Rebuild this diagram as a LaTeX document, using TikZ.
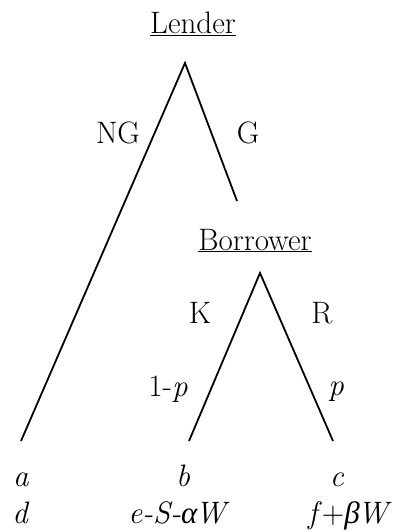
\documentclass[tikz,border=0pt]{standalone}
\usepackage{fontspec}
\newfontfamily\grk{Liberation Serif}
\begin{document}
\begin{tikzpicture}[x=1pt,y=-1pt,
  branch/.style={line width=1.8pt},
  lbl/.style={anchor=base,inner sep=0pt,font=\fontsize{31}{36}\selectfont}]
\useasboundingbox (0,0) rectangle (393,532);
% decision nodes
\node[lbl] (lender) at (193,34) {\underline{Lender}};
\node[lbl] (borrower) at (255,250) {\underline{Borrower}};
\coordinate (L0) at (185,63);
\coordinate (Lng) at (21,441);
\coordinate (Lg) at (237,201);
\coordinate (B0) at (260,273);
\coordinate (Bk) at (189,441);
\coordinate (Br) at (333,441);
% branches
\draw[branch] (Lng) -- (L0) -- (Lg);
\draw[branch] (Bk) -- (B0) -- (Br);
% branch labels
\node[lbl] (ng) at (118,143) {NG};
\node[lbl] (g) at (248,143) {G};
\node[lbl] (k) at (200,323) {K};
\node[lbl] (r) at (322,323) {R};
\node[lbl] (q) at (168,396) {1-\textit{p}};
\node[lbl] (p) at (336,395) {\textit{p}};
% payoffs
\node[lbl] (a) at (21,486) {\textit{a}};
\node[lbl] (b) at (183,486) {\textit{b}};
\node[lbl] (c) at (337,486) {\textit{c}};
\node[lbl] (d) at (21,523) {\textit{d}};
\node[lbl] (e) at (179,523) {\textit{e-S-}{\grk\itshape α}\kern-2pt\textit{W}};
\node[lbl] (f) at (350,523) {\textit{f}+{\grk\itshape β}\kern-2pt\textit{W}};
\end{tikzpicture}
\end{document}
